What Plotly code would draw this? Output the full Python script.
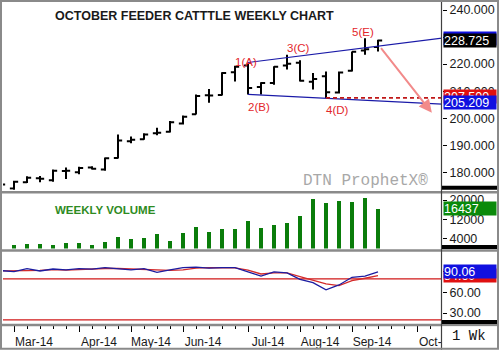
import plotly.graph_objects as go

# ---------------- data ----------------
dates = ["2014-02-24", "2014-03-03", "2014-03-10", "2014-03-17", "2014-03-24", "2014-03-31",
         "2014-04-07", "2014-04-14", "2014-04-21", "2014-04-28", "2014-05-05", "2014-05-12",
         "2014-05-19", "2014-05-26", "2014-06-02", "2014-06-09", "2014-06-16", "2014-06-23",
         "2014-06-30", "2014-07-07", "2014-07-14", "2014-07-21", "2014-07-28", "2014-08-04",
         "2014-08-11", "2014-08-18", "2014-08-25", "2014-09-01", "2014-09-08", "2014-09-15"]
opens = [175.0, 174.0, 176.3, 177.8, 177.0, 180.5, 180.0, 181.8, 181.0, 185.3, 191.5, 192.2,
         194.4, 195.0, 198.0, 201.5, 208.5, 208.6, 217.0, 219.5, 211.5, 213.0, 219.5, 220.5,
         213.5, 215.5, 209.5, 217.5, 225.0, 226.3]
highs = [175.8, 176.9, 178.5, 178.6, 181.0, 181.8, 182.0, 182.2, 185.5, 194.0, 193.2, 194.4,
         196.5, 199.0, 201.0, 208.8, 210.8, 217.0, 219.4, 220.6, 213.3, 219.2, 223.5, 221.4,
         216.7, 217.3, 217.3, 224.7, 229.6, 229.0]
lows = [174.8, 173.3, 176.0, 176.3, 176.5, 177.5, 179.3, 181.0, 180.6, 185.1, 190.7, 192.0,
        193.7, 194.7, 197.7, 201.4, 205.7, 208.4, 213.6, 208.8, 208.8, 212.4, 218.0, 213.6,
        210.6, 207.5, 209.1, 217.3, 223.5, 224.7]
closes = [175.5, 176.5, 178.0, 177.6, 180.6, 180.6, 181.6, 181.3, 185.2, 191.7, 192.0, 194.0,
          194.6, 198.5, 200.5, 208.2, 208.4, 216.7, 219.0, 211.2, 213.0, 219.0, 220.1, 213.8,
          214.5, 209.6, 216.9, 224.6, 225.5, 228.725]
volume = [1500, 1500, 1800, 1800, 1400, 2200, 2200, 1400, 2600, 5000, 3900, 4300, 5900,
          3200, 6300, 9100, 6800, 8100, 8000, 11600, 8700, 9600, 10800, 13300, 20700,
          19000, 19800, 19400, 21100, 16437]
stoch_k = [91.9, 90.6, 94.8, 91.4, 94.3, 92.9, 94.8, 94.0, 96.2, 94.5, 93.0, 94.8, 89.4,
           93.0, 96.2, 97.1, 95.5, 96.2, 96.2, 90.0, 84.0, 90.0, 88.7, 79.3, 74.5, 63.8,
           71.0, 82.2, 84.0, 90.06]
stoch_d = [91.5, 91.3, 92.0, 92.3, 93.3, 92.8, 93.8, 93.9, 95.0, 95.0, 94.5, 94.0, 92.5,
           92.2, 93.0, 95.5, 96.3, 96.3, 96.0, 92.5, 87.0, 88.7, 88.7, 83.2, 78.3, 72.5,
           70.0, 77.4, 80.8, 84.6]
stoch_levels = [80, 20]

month_ticks = ["2014-03-03", "2014-04-07", "2014-05-05", "2014-06-02", "2014-07-07",
               "2014-08-04", "2014-09-01", "2014-10-06"]
month_labels = ["Mar-14", "Apr-14", "May-14", "Jun-14", "Jul-14", "Aug-14", "Sep-14", "Oct-14"]
price_ticks = [180, 190, 200, 210, 220, 230, 240]
volume_ticks = [4000, 12000, 20000]
osc_ticks = [30, 60, 90]

x_range = ["2014-02-25 01:50", "2014-10-19 11:00"]

wave_labels = ["1(A)", "2(B)", "3(C)", "4(D)", "5(E)"]
wave_dates = ["2014-07-06", "2014-07-13", "2014-08-03", "2014-08-24", "2014-09-07"]
wave_prices = [220.9, 204.0, 226.0, 202.9, 231.7]

upper_trend_x = ["2014-07-07", x_range[1]]
upper_trend_y = [220.6, 229.6]
lower_trend_x = ["2014-07-07", x_range[1]]
lower_trend_y = [208.8, 205.209]
support_x = ["2014-08-18", x_range[1]]
support_y = 207.5
arrow_tail = ("2014-09-16", 226.5)
arrow_head = ("2014-10-14", 202.0)

FONT = "Liberation Sans"

# ---------------- figure ----------------
fig = go.Figure()

fig.add_trace(go.Ohlc(
    x=dates, open=opens, high=highs, low=lows, close=closes,
    increasing=dict(line=dict(color="black", width=2)),
    decreasing=dict(line=dict(color="black", width=2)),
    tickwidth=0.32, xaxis="x", yaxis="y", hoverinfo="skip"))

fig.add_trace(go.Bar(x=dates, y=volume, marker=dict(color="#0a7d0a", line=dict(width=0)),
                     width=0.32 * 7 * 86400000, xaxis="x", yaxis="y2", hoverinfo="skip"))

for lvl in stoch_levels:
    fig.add_trace(go.Scatter(x=x_range, y=[lvl, lvl], mode="lines",
                             line=dict(color="#d01818", width=1.3), xaxis="x", yaxis="y3",
                             hoverinfo="skip"))
fig.add_trace(go.Scatter(x=dates, y=stoch_d, mode="lines", line=dict(color="#d42a2a", width=1.3),
                         xaxis="x", yaxis="y3", hoverinfo="skip"))
fig.add_trace(go.Scatter(x=dates, y=stoch_k, mode="lines", line=dict(color="#1c1ca0", width=1.3),
                         xaxis="x", yaxis="y3", hoverinfo="skip"))

W, H = 499, 352
ML, MR, MT, MB = 3, 57, 3, 27
PW, PH = W - ML - MR, H - MT - MB


def px(xp):
    return (xp - ML) / PW


def py(yp):
    return (H - MB - yp) / PH


shapes = []
# trendlines
shapes.append(dict(type="line", xref="x", yref="y", x0=upper_trend_x[0], x1=upper_trend_x[1],
                   y0=upper_trend_y[0], y1=upper_trend_y[1], line=dict(color="#1a1aa8", width=1.2)))
shapes.append(dict(type="line", xref="x", yref="y", x0=lower_trend_x[0], x1=lower_trend_x[1],
                   y0=lower_trend_y[0], y1=lower_trend_y[1], line=dict(color="#1a1aa8", width=1.2)))
shapes.append(dict(type="line", xref="x", yref="y", x0=support_x[0], x1=support_x[1],
                   y0=support_y, y1=support_y, line=dict(color="#c01818", width=1.6, dash="4px,3px")))

# frame / separators
gray = "#8a8a8a"
for yp in [193.5, 252, 327]:
    shapes.append(dict(type="line", xref="paper", yref="paper", x0=px(0), x1=px(499),
                       y0=py(yp), y1=py(yp), line=dict(color=gray, width=2.5), layer="above"))
shapes.append(dict(type="rect", xref="paper", yref="paper", x0=px(442), x1=px(499),
                   y0=py(328.5), y1=py(351), fillcolor="white", line=dict(width=0), layer="above"))
shapes.append(dict(type="line", xref="paper", yref="paper", x0=px(441.5), x1=px(441.5),
                   y0=py(0), y1=py(352), line=dict(color="#404040", width=1.2), layer="above"))
for y0, y1 in [(187, 191), (246.5, 250.5), (322, 326)]:
    shapes.append(dict(type="rect", xref="paper", yref="paper", x0=px(442), x1=px(497.5),
                       y0=py(y1), y1=py(y0), fillcolor="black", line=dict(width=0), layer="above"))
shapes.append(dict(type="rect", xref="paper", yref="paper", x0=px(1), x1=px(498),
                   y0=py(351), y1=py(1), line=dict(color=gray, width=2), layer="above"))

annotations = []
annotations.append(dict(text="<b>OCTOBER FEEDER CATTTLE WEEKLY CHART</b>", xref="paper", yref="paper",
                        x=px(53), y=py(16), xanchor="left", yanchor="middle", showarrow=False,
                        font=dict(family=FONT, size=12.5, color="#1a1a1a")))
annotations.append(dict(text="<b>WEEKLY VOLUME</b>", xref="paper", yref="paper",
                        x=px(53), y=py(211), xanchor="left", yanchor="middle", showarrow=False,
                        font=dict(family=FONT, size=11.5, color="#2e8b22")))
annotations.append(dict(text="DTN ProphetX®", xref="paper", yref="paper",
                        x=px(365), y=py(182), xanchor="center", yanchor="middle", showarrow=False,
                        font=dict(family="Liberation Mono", size=16, color="#a8a8a8")))
annotations.append(dict(text="1 Wk", xref="paper", yref="paper",
                        x=px(469), y=py(338), xanchor="center", yanchor="middle", showarrow=False,
                        font=dict(family="Liberation Mono", size=14, color="#111111")))
for t, d, p in zip(wave_labels, wave_dates, wave_prices):
    annotations.append(dict(text=t, x=d, y=p, xref="x", yref="y", showarrow=False,
                            xanchor="center", yanchor="middle",
                            font=dict(family=FONT, size=11.5, color="#e3262b")))
annotations.append(dict(x=arrow_head[0], y=arrow_head[1], ax=arrow_tail[0], ay=arrow_tail[1],
                        xref="x", yref="y", axref="x", ayref="y", text="", showarrow=True,
                        arrowhead=2, arrowsize=1.3, arrowwidth=2, arrowcolor="#f28a8a"))


def value_box(text, y, yref, bg, fg="white"):
    return dict(text=text, xref="paper", x=1, xshift=1, y=y, yref=yref, xanchor="left",
                yanchor="middle", showarrow=False, width=52, height=13, align="left",
                bgcolor=bg, borderpad=0, font=dict(family=FONT, size=12.5, color=fg))


annotations.append(value_box(f"{upper_trend_y[1]:.3f}", upper_trend_y[1], "y", "#1010e0"))
annotations.append(value_box(f"{closes[-1]:.3f}", closes[-1], "y", "black"))
annotations.append(value_box(f"{support_y:.3f}", support_y + 0.5, "y", "#e01010"))
annotations.append(value_box(f"{lower_trend_y[1]:.3f}", lower_trend_y[1] + 0.5, "y", "#1010e0"))
annotations.append(value_box(f"{volume[-1]}", volume[-1], "y2", "#0a8a0a"))
annotations.append(value_box(f"{stoch_d[-1]:.2f}", stoch_d[-1], "y3", "#e01010"))
annotations.append(value_box(f"{stoch_k[-1]:.2f}", stoch_k[-1], "y3", "#1010e0"))

axis_font = dict(family=FONT, size=12.5, color="#1a1a1a")
common_y = dict(side="right", anchor="x", ticks="outside", ticklen=4, tickcolor="black",
                showgrid=False, zeroline=False, showline=False, tickfont=axis_font, fixedrange=True)

fig.update_layout(
    width=W, height=H, margin=dict(l=ML, r=MR, t=MT, b=MB),
    paper_bgcolor="white", plot_bgcolor="white", showlegend=False,
    xaxis=dict(domain=[0, 1], anchor="y3", range=x_range, type="date",
               tickvals=month_ticks, ticktext=month_labels, ticks="outside", ticklen=8,
               tickcolor="black", ticklabelshift=20, tickfont=dict(family=FONT, size=12, color="#1a1a1a"),
               minor=dict(ticks="outside", ticklen=5, tickcolor="black",
                          tick0="2014-02-24", dtick=7 * 86400000),
               showgrid=False, zeroline=False, rangeslider=dict(visible=False), fixedrange=True),
    yaxis=dict(domain=[py(191), 1], range=[173.5, 242.6], tickvals=price_ticks,
               tickformat=".3f", **common_y),
    yaxis2=dict(domain=[py(250), py(195)], range=[0, 22600], tickvals=volume_ticks,
                tickformat="d", **common_y),
    yaxis3=dict(domain=[0, py(255)], range=[15.5, 117], tickvals=osc_ticks,
                tickformat=".2f", **common_y),
    shapes=shapes, annotations=annotations, bargap=0,
)

fig.write_html("out.html")
